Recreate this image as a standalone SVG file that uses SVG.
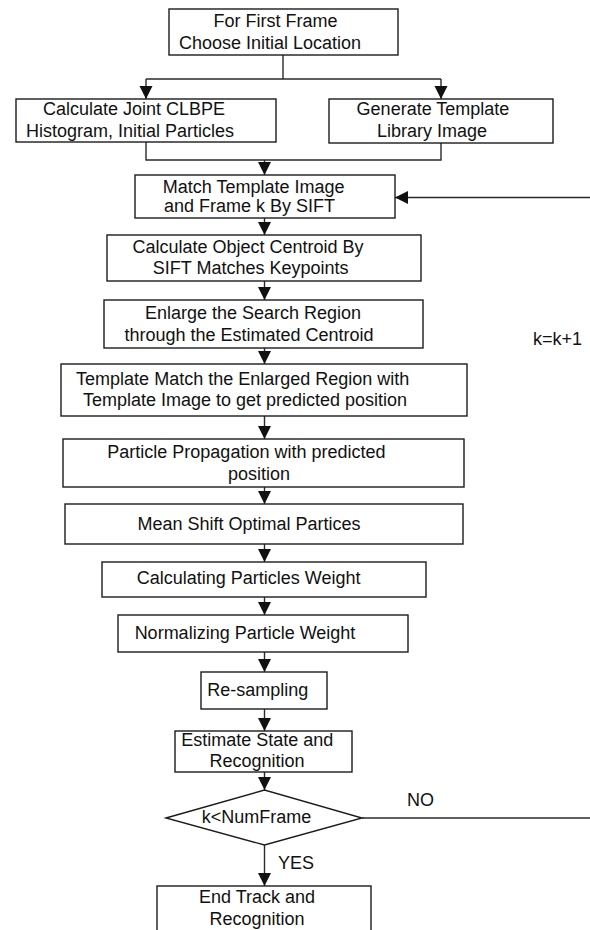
<svg xmlns="http://www.w3.org/2000/svg" width="590" height="930" viewBox="0 0 590 930">
<style>
.box{fill:#fff;stroke:#1c1c1c;stroke-width:1.4}
.ln{fill:none;stroke:#2a2a2a;stroke-width:1.4}
text{font-family:"Liberation Sans",Arial,sans-serif;font-size:18px;fill:#111}
.c{text-anchor:middle}
</style>
<defs>
<marker id="ah" markerUnits="userSpaceOnUse" markerWidth="14" markerHeight="14" refX="13" refY="6.5" orient="auto">
<path d="M0,0 L13,6.5 L0,13 z" fill="#111"/>
</marker>
</defs>
<rect width="590" height="930" fill="#fff"/>
<g id="connectors">
<polyline class="ln" points="283,55 283,79"/>
<polyline class="ln" points="146,79 441,79"/>
<line class="ln" x1="146" y1="79" x2="146" y2="99" marker-end="url(#ah)"/>
<line class="ln" x1="441" y1="79" x2="441" y2="99" marker-end="url(#ah)"/>
<polyline class="ln" points="146,142 146,160 441,160 441,143"/>
<line class="ln" x1="264.5" y1="160" x2="264.5" y2="175" marker-end="url(#ah)"/>
<line class="ln" x1="590" y1="197.5" x2="395" y2="197.5" marker-end="url(#ah)"/>
<line class="ln" x1="264.5" y1="218" x2="264.5" y2="235" marker-end="url(#ah)"/>
<line class="ln" x1="264.5" y1="281" x2="264.5" y2="300" marker-end="url(#ah)"/>
<line class="ln" x1="264.5" y1="348" x2="264.5" y2="364" marker-end="url(#ah)"/>
<line class="ln" x1="264.5" y1="416" x2="264.5" y2="439" marker-end="url(#ah)"/>
<line class="ln" x1="264.5" y1="487" x2="264.5" y2="504" marker-end="url(#ah)"/>
<line class="ln" x1="264.5" y1="544" x2="264.5" y2="562" marker-end="url(#ah)"/>
<line class="ln" x1="264.5" y1="597" x2="264.5" y2="615" marker-end="url(#ah)"/>
<line class="ln" x1="264.5" y1="652" x2="264.5" y2="672" marker-end="url(#ah)"/>
<line class="ln" x1="264.5" y1="709" x2="264.5" y2="731" marker-end="url(#ah)"/>
<line class="ln" x1="264.5" y1="772" x2="264.5" y2="790" marker-end="url(#ah)"/>
<line class="ln" x1="264.5" y1="845" x2="264.5" y2="886" marker-end="url(#ah)"/>
<line class="ln" x1="362" y1="818" x2="590" y2="818"/>
<text x="407" y="805.7">NO</text>
<text x="278" y="869">YES</text>
<text x="533" y="345">k=k+1</text>
</g>
<g id="n1"><rect class="box" x="169" y="9" width="229" height="46"/>
<text class="c" x="275.5" y="27">For First Frame</text><text class="c" x="270" y="49">Choose Initial Location</text></g>
<g id="n2"><rect class="box" x="16" y="99" width="260" height="43"/>
<text class="c" x="134" y="115">Calculate Joint CLBPE</text><text class="c" x="130" y="137">Histogram, Initial Particles</text></g>
<g id="n3"><rect class="box" x="329" y="99" width="224" height="44"/>
<text class="c" x="433" y="115">Generate Template</text><text class="c" x="432" y="137">Library Image</text></g>
<g id="n4"><rect class="box" x="135" y="175" width="260" height="43"/>
<text class="c" x="253.6" y="193">Match Template Image</text><text class="c" x="249.6" y="212">and Frame k By SIFT</text></g>
<g id="n5"><rect class="box" x="107" y="235" width="314" height="46"/>
<text class="c" x="248" y="253">Calculate Object Centroid By</text><text class="c" x="250.6" y="274">SIFT Matches Keypoints</text></g>
<g id="n6"><rect class="box" x="104" y="300" width="319" height="48"/>
<text class="c" x="253" y="319">Enlarge the Search Region</text><text class="c" x="249" y="340.7">through the Estimated Centroid</text></g>
<g id="n7"><rect class="box" x="61" y="364" width="406" height="52"/>
<text class="c" x="242.7" y="385">Template Match the Enlarged Region with</text><text class="c" x="245" y="406">Template Image to get predicted position</text></g>
<g id="n8"><rect class="box" x="63" y="439" width="401" height="48"/>
<text class="c" x="246.4" y="457.7">Particle Propagation with predicted</text><text class="c" x="259" y="480">position</text></g>
<g id="n9"><rect class="box" x="65" y="504" width="398" height="40"/>
<text class="c" x="249" y="530">Mean Shift Optimal Partices</text></g>
<g id="n10"><rect class="box" x="102" y="562" width="324" height="35"/>
<text class="c" x="248.7" y="584.3">Calculating Particles Weight</text></g>
<g id="n11"><rect class="box" x="118" y="615" width="290" height="37"/>
<text class="c" x="245" y="639">Normalizing Particle Weight</text></g>
<g id="n12"><rect class="box" x="201" y="672" width="126" height="37"/>
<text class="c" x="257.7" y="695.7">Re-sampling</text></g>
<g id="n13"><rect class="box" x="175" y="731" width="177" height="41"/>
<text class="c" x="257.3" y="746">Estimate State and</text><text class="c" x="257" y="767.3">Recognition</text></g>
<g id="n14"><polygon class="box" points="166,818 264.5,790 362,818 264.5,845"/>
<text class="c" x="256.4" y="823.3">k&lt;NumFrame</text></g>
<g id="n15"><rect class="box" x="157" y="886" width="214" height="50"/>
<text class="c" x="257" y="902.7">End Track and</text><text class="c" x="257" y="925">Recognition</text></g>
</svg>
